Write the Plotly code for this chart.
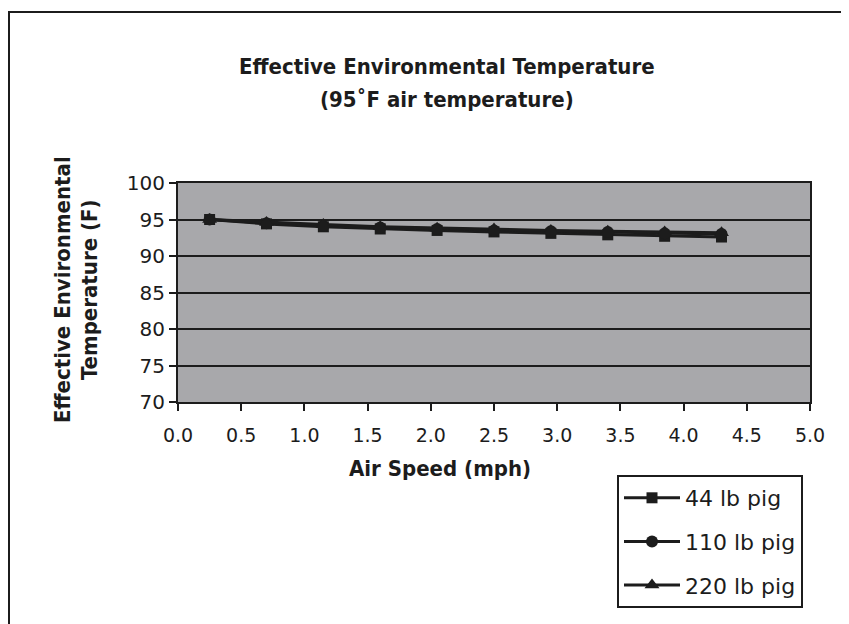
import plotly.graph_objects as go

air_speed = [0.25, 0.70, 1.15, 1.60, 2.05, 2.50, 2.95, 3.40, 3.85, 4.30]
pig_44 = [95.0, 94.4, 94.0, 93.7, 93.5, 93.3, 93.1, 92.9, 92.7, 92.6]
pig_110 = [95.0, 94.5, 94.1, 93.9, 93.7, 93.5, 93.4, 93.3, 93.1, 93.0]
pig_220 = [95.0, 94.6, 94.3, 94.0, 93.8, 93.7, 93.5, 93.4, 93.3, 93.2]
series_names = ["44 lb pig", "110 lb pig", "220 lb pig"]
x_ticks = [0.0, 0.5, 1.0, 1.5, 2.0, 2.5, 3.0, 3.5, 4.0, 4.5, 5.0]
y_ticks = [70, 75, 80, 85, 90, 95, 100]

OFF = 8  # page body margin
W, H = 849 - OFF, 624 - OFF
# plot area in page pixels
L, R, T, B = 178, 810, 183, 402

def px(x):
    return (x - L) / (R - L)

def py(y):
    return (B - y) / (B - T)

INK = "#1c1c1c"
NARROW = "DejaVu Sans Condensed, Liberation Sans Narrow, sans-serif"
SANS = "DejaVu Sans, Liberation Sans, Arial, sans-serif"

fig = go.Figure()
symbols = ["square", "circle", "triangle-up"]
sizes = [11, 12, 13]
for i, (name, vals, sym, sz) in enumerate(zip(series_names, [pig_44, pig_110, pig_220], symbols, sizes)):
    fig.add_trace(go.Scatter(
        x=air_speed, y=vals, name=name, mode="lines+markers",
        legendgroup=f"g{i}",
        line=dict(color=INK, width=3),
        marker=dict(symbol=sym, size=sz, color=INK),
    ))

fig.update_layout(
    width=W, height=H,
    margin=dict(l=L - OFF, r=849 - R, t=T - OFF, b=624 - B, autoexpand=False),
    paper_bgcolor="white",
    plot_bgcolor="#a8a8ab",
    showlegend=True,
    legend=dict(
        xref="container", yref="container",
        x=(617 - OFF) / W, y=1 - (475 - OFF) / H, xanchor="left", yanchor="top",
        bgcolor="white", bordercolor=INK, borderwidth=2,
        font=dict(family=SANS, size=22, color=INK),
        tracegroupgap=12, itemwidth=56,
    ),
    xaxis=dict(
        range=[0, 5], tickvals=x_ticks, ticktext=[f"{v:.1f}" for v in x_ticks],
        showgrid=False, zeroline=False,
        ticks="outside", ticklen=7, tickwidth=2, tickcolor=INK,
        showline=True, linecolor=INK, linewidth=2, mirror=True,
        ticklabelstandoff=8,
        tickfont=dict(family=SANS, size=19, color=INK),
    ),
    yaxis=dict(
        range=[70, 100], tickvals=y_ticks,
        showgrid=True, gridcolor=INK, gridwidth=1.5, zeroline=False,
        ticks="outside", ticklen=7, tickwidth=2, tickcolor=INK,
        showline=True, linecolor=INK, linewidth=2, mirror=True,
        tickfont=dict(family=SANS, size=20, color=INK),
    ),
)

# outer frame
fig.add_shape(type="rect", xref="paper", yref="paper",
              x0=px(9), x1=px(843), y0=py(640), y1=py(12),
              line=dict(color=INK, width=2), fillcolor="rgba(0,0,0,0)", layer="below")

title_font = dict(family=NARROW, size=22, color=INK, weight="bold")

def label(x, y, text, angle=0):
    fig.add_annotation(x=px(x), y=py(y), xref="paper", yref="paper",
                       xanchor="center", yanchor="middle",
                       text=text, showarrow=False, textangle=angle,
                       font=title_font)

label(447, 66, "Effective Environmental Temperature")
label(447, 100, "(95˚F air temperature)")
label(440, 468, "Air Speed (mph)")
label(62, 290, "Effective Environmental", -90)
label(89, 290, "Temperature (F)", -90)

fig.write_html("out.html")
